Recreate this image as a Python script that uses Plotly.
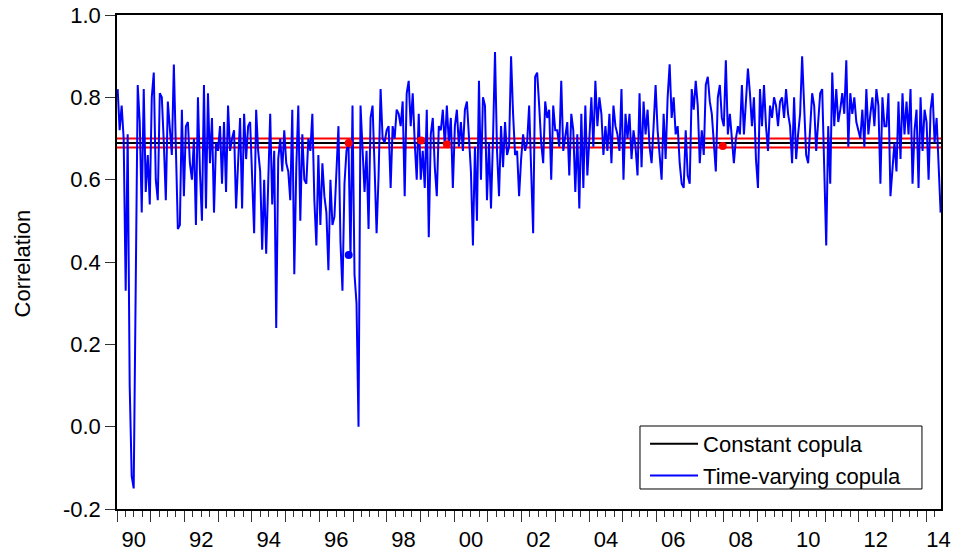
import pandas as pd
import plotly.graph_objects as go

# Time-varying copula correlation, read in five roughly five-year blocks
tv_1990_1994 = [0.82, 0.72, 0.78, 0.70, 0.33, 0.71, 0.10, -0.12, -0.15, 0.27,
                0.83, 0.74, 0.52, 0.82, 0.57, 0.66, 0.54, 0.80, 0.86, 0.60,
                0.55, 0.81, 0.80, 0.69, 0.55, 0.79, 0.71, 0.66, 0.88, 0.69,
                0.48, 0.49, 0.77, 0.56, 0.73, 0.74, 0.64, 0.60, 0.70, 0.49,
                0.80, 0.62, 0.50, 0.83, 0.53, 0.81, 0.64, 0.75, 0.52, 0.69,
                0.67, 0.73, 0.59, 0.74, 0.57, 0.78, 0.67, 0.70, 0.72, 0.53,
                0.65, 0.75, 0.53, 0.76, 0.65, 0.73, 0.74, 0.62, 0.47, 0.77,
                0.67, 0.62, 0.43, 0.60, 0.42, 0.59, 0.76, 0.54, 0.67, 0.24,
                0.65, 0.70, 0.62, 0.72, 0.64]
tv_1995_1999 = [0.62, 0.55, 0.77, 0.37, 0.63, 0.78, 0.50, 0.71, 0.60, 0.59,
                0.70, 0.67, 0.76, 0.55, 0.44, 0.66, 0.49, 0.64, 0.56, 0.52,
                0.38, 0.60, 0.49, 0.51, 0.62, 0.73, 0.45, 0.33, 0.59, 0.67,
                0.69, 0.41, 0.78, 0.37, 0.30, 0.00, 0.78, 0.66, 0.57, 0.67,
                0.48, 0.75, 0.78, 0.63, 0.47, 0.61, 0.82, 0.70, 0.69, 0.72,
                0.73, 0.58, 0.73, 0.70, 0.77, 0.76, 0.73, 0.79, 0.56, 0.81,
                0.84, 0.73, 0.81, 0.69, 0.60, 0.76, 0.60, 0.67, 0.58, 0.77,
                0.46, 0.71, 0.75, 0.63, 0.56, 0.73, 0.72, 0.77, 0.68, 0.78,
                0.69, 0.75]
tv_2000_2004 = [0.58, 0.73, 0.77, 0.68, 0.74, 0.67, 0.77, 0.79, 0.71, 0.62,
                0.44, 0.68, 0.50, 0.84, 0.60, 0.80, 0.78, 0.55, 0.69, 0.53,
                0.70, 0.91, 0.67, 0.56, 0.73, 0.63, 0.74, 0.66, 0.68, 0.90,
                0.76, 0.66, 0.67, 0.56, 0.65, 0.71, 0.67, 0.69, 0.78, 0.64,
                0.47, 0.85, 0.86, 0.78, 0.69, 0.64, 0.79, 0.75, 0.77, 0.60,
                0.78, 0.72, 0.72, 0.68, 0.84, 0.67, 0.70, 0.74, 0.61, 0.76,
                0.72, 0.57, 0.71, 0.53, 0.76, 0.58, 0.78, 0.61, 0.70, 0.80,
                0.68, 0.84, 0.73, 0.80, 0.76, 0.66, 0.73, 0.67, 0.76, 0.64,
                0.78, 0.73]
tv_2005_2009 = [0.71, 0.67, 0.82, 0.60, 0.76, 0.70, 0.76, 0.65, 0.72, 0.68,
                0.61, 0.81, 0.63, 0.79, 0.71, 0.77, 0.68, 0.64, 0.73, 0.83,
                0.72, 0.66, 0.60, 0.76, 0.65, 0.80, 0.88, 0.75, 0.80, 0.71,
                0.73, 0.64, 0.59, 0.58, 0.72, 0.61, 0.59, 0.82, 0.77, 0.84,
                0.78, 0.64, 0.72, 0.66, 0.83, 0.85, 0.79, 0.76, 0.69, 0.62,
                0.80, 0.83, 0.75, 0.73, 0.89, 0.71, 0.76, 0.70, 0.64, 0.70,
                0.73, 0.71, 0.83, 0.71, 0.80, 0.87, 0.81, 0.73, 0.80, 0.65,
                0.58, 0.82, 0.73, 0.83, 0.73, 0.67, 0.78, 0.75, 0.80, 0.78,
                0.73, 0.79]
tv_2010_2014 = [0.80, 0.75, 0.82, 0.76, 0.73, 0.64, 0.80, 0.65, 0.71, 0.76,
                0.90, 0.77, 0.66, 0.64, 0.74, 0.81, 0.78, 0.67, 0.74, 0.81,
                0.82, 0.59, 0.44, 0.73, 0.59, 0.86, 0.73, 0.82, 0.74, 0.77,
                0.81, 0.76, 0.89, 0.68, 0.81, 0.76, 0.80, 0.74, 0.72, 0.70,
                0.77, 0.68, 0.82, 0.71, 0.76, 0.80, 0.73, 0.82, 0.78, 0.59,
                0.80, 0.73, 0.73, 0.81, 0.56, 0.63, 0.69, 0.62, 0.79, 0.65,
                0.81, 0.71, 0.79, 0.71, 0.82, 0.59, 0.72, 0.77, 0.58, 0.80,
                0.67, 0.77, 0.74, 0.60, 0.77, 0.81, 0.69, 0.75, 0.65, 0.52]

sample_start = "1990-01-08"
sample_end = "2014-06-06"

# Constant copula estimate with its band
const_corr = 0.689
const_upper = 0.700
const_lower = 0.678

# Highlighted observations
red_mark_dates = ["1996-11-15", "1999-01-08", "1999-10-15", "2007-12-20"]
red_mark_vals = [0.689, 0.695, 0.686, 0.682]
blue_mark_dates = ["1996-11-15"]
blue_mark_vals = [0.417]

# Axis labels
y_ticks = [-0.2, 0.0, 0.2, 0.4, 0.6, 0.8, 1.0]
y_tick_text = ["-0.2", "0.0", "0.2", "0.4", "0.6", "0.8", "1.0"]
label_years = list(range(1990, 2015, 2))
label_text = [f"{y % 100:02d}" for y in label_years]

tv_corr = tv_1990_1994 + tv_1995_1999 + tv_2000_2004 + tv_2005_2009 + tv_2010_2014
dates = pd.date_range(sample_start, sample_end, periods=len(tv_corr))

x_range = ["1990-01-01", "2014-06-10"]
FONT = "Liberation Sans, Arial, Helvetica, sans-serif"

fig = go.Figure()
for lvl in (const_upper, const_lower):
    fig.add_trace(go.Scatter(x=[x_range[0], x_range[1]], y=[lvl, lvl], mode="lines",
                             line=dict(color="#ff0000", width=2), showlegend=False,
                             hoverinfo="skip"))
fig.add_trace(go.Scatter(x=[x_range[0], x_range[1]], y=[const_corr, const_corr],
                         mode="lines", line=dict(color="#000000", width=2),
                         name="Constant copula"))
fig.add_trace(go.Scatter(x=dates, y=tv_corr, mode="lines",
                         line=dict(color="#0000ff", width=2),
                         name="Time-varying copula"))
fig.add_trace(go.Scatter(x=red_mark_dates, y=red_mark_vals, mode="markers",
                         marker=dict(color="#ff0000", size=8), showlegend=False))
fig.add_trace(go.Scatter(x=blue_mark_dates, y=blue_mark_vals, mode="markers",
                         marker=dict(color="#0000ff", size=8), showlegend=False))

# invisible trace carrying the year-label axis
fig.add_trace(go.Scatter(x=[x_range[0]], y=[None], xaxis="x2", showlegend=False,
                         hoverinfo="skip"))

label_pos = [f"{y}-07-02" for y in label_years]
label_pos[-1] = "2014-05-15"

fig.update_layout(
    width=955, height=553,
    margin=dict(l=117, r=14, t=15, b=44),
    paper_bgcolor="white", plot_bgcolor="white",
    font=dict(family=FONT, size=22, color="black"),
    showlegend=True,
    legend=dict(x=0.6408, y=0.1741, xanchor="left", yanchor="top",
                borderwidth=0, bgcolor="rgba(0,0,0,0)",
                font=dict(family=FONT, size=22, color="black"),
                tracegroupgap=0, itemwidth=48),
    # frame around the legend entries
    shapes=[dict(type="rect", xref="paper", yref="paper",
                 x0=0.6347, x1=0.9769, y0=0.0405, y1=0.168,
                 line=dict(color="black", width=1), fillcolor="white",
                 layer="below")],
    xaxis=dict(type="date", range=x_range, showgrid=False, zeroline=False,
               automargin=False,
               showline=True, linecolor="black", linewidth=1.5, mirror=True,
               ticks="outside", tick0="1990-01-01", dtick="M12", ticklen=11,
               tickcolor="#333", tickwidth=1, showticklabels=False,
               minor=dict(ticks="outside", tick0="1990-01-01", dtick="M3",
                          ticklen=6, tickcolor="#333", tickwidth=1)),
    xaxis2=dict(type="date", range=x_range, overlaying="x", side="bottom",
                automargin=False,
                showgrid=False, zeroline=False, showline=False,
                tickmode="array", tickvals=label_pos, ticktext=label_text,
                ticks="outside", ticklen=11, tickcolor="rgba(0,0,0,0)",
                tickfont=dict(family=FONT, size=22, color="black")),
    yaxis=dict(range=[-0.2, 1.0], tickmode="array", tickvals=y_ticks,
               ticktext=y_tick_text, automargin=False,
               showgrid=False, zeroline=False, showline=True, linecolor="black",
               linewidth=1.5, mirror=True, ticks="outside", ticklen=10,
               tickcolor="#333", tickfont=dict(family=FONT, size=22, color="black")),
    annotations=[dict(text="Correlation", textangle=-90, xref="paper", yref="paper",
                      x=-0.1153, y=0.497, xanchor="center", yanchor="middle",
                      showarrow=False, font=dict(family=FONT, size=22, color="black"))],
)

fig.write_html("out.html")
